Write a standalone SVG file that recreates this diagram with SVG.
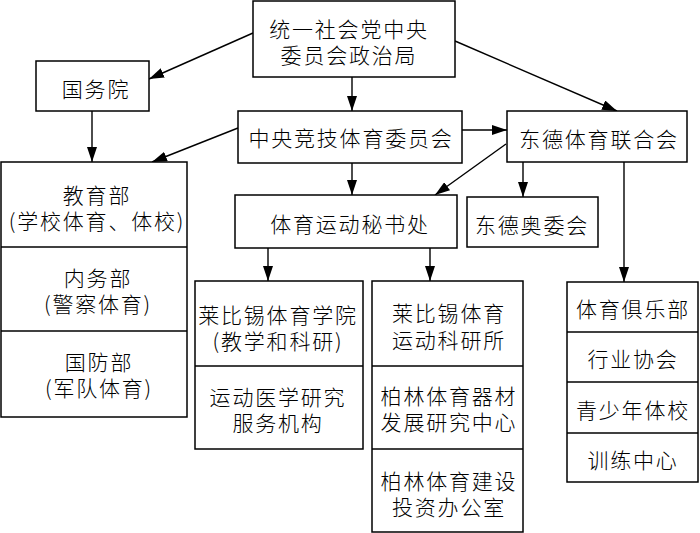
<svg xmlns="http://www.w3.org/2000/svg" width="700" height="533" viewBox="0 0 700 533">
<defs>
<marker id="ah" markerWidth="15" markerHeight="10" refX="15" refY="5" orient="auto" markerUnits="userSpaceOnUse"><path d="M0,0 L15,5 L0,10 z" fill="#000"/></marker>
<style>
rect{fill:#fff;stroke:#000;stroke-width:1.5}
.dv{stroke:#000;stroke-width:1.5}
.c line{stroke:#000;stroke-width:1.4;marker-end:url(#ah)}
text{font-family:"Noto Sans CJK SC","Liberation Sans",sans-serif;font-size:21px;font-weight:300;letter-spacing:1.8px;text-anchor:middle;dominant-baseline:central;fill:#000}
</style>
</defs>
<rect x="0" y="0" width="700" height="533" style="stroke:none;fill:#fff"/>
<g class="c" id="connectors">
<line x1="253" y1="33" x2="149" y2="79"/>
<line x1="352" y1="77" x2="352" y2="111"/>
<line x1="455" y1="41" x2="617" y2="111"/>
<line x1="92" y1="111" x2="92" y2="162"/>
<line x1="238" y1="128" x2="152" y2="162"/>
<line x1="462" y1="130" x2="507" y2="130"/>
<line x1="352" y1="163" x2="352" y2="195"/>
<line x1="506" y1="144" x2="435" y2="195"/>
<line x1="523" y1="162" x2="523" y2="197"/>
<line x1="624" y1="162" x2="624" y2="282"/>
<line x1="268" y1="248" x2="268" y2="281"/>
<line x1="430" y1="248" x2="430" y2="281"/>
</g>
<g id="politburo">
<rect x="253" y="1" width="202" height="76"/>
<text x="349" y="28">统一社会党中央<tspan x="349" dy="26">委员会政治局</tspan></text>
</g>
<g id="state-council">
<rect x="36" y="61" width="113" height="50"/>
<text x="96" y="88">国务院</text>
</g>
<g id="central-committee">
<rect x="238" y="111" width="224" height="52"/>
<text x="351" y="137">中央竞技体育委员会</text>
</g>
<g id="dtsb">
<rect x="507" y="111" width="180" height="51"/>
<text x="599" y="138">东德体育联合会</text>
</g>
<g id="secretariat">
<rect x="235" y="195" width="222" height="53"/>
<text x="350" y="223">体育运动秘书处</text>
</g>
<g id="noc">
<rect x="467" y="197" width="131" height="50"/>
<text x="532" y="224">东德奥委会</text>
</g>
<g id="ministries">
<rect x="1" y="162" width="186" height="255"/>
<line class="dv" x1="1" y1="247" x2="187" y2="247"/>
<line class="dv" x1="1" y1="331" x2="187" y2="331"/>
<text x="97" y="194">教育部<tspan x="97" dy="26">(学校体育、体校)</tspan></text>
<text x="98" y="277">内务部<tspan x="98" dy="26">(警察体育)</tspan></text>
<text x="99" y="361">国防部<tspan x="99" dy="26">(军队体育)</tspan></text>
</g>
<g id="leipzig-college">
<rect x="195" y="281" width="168" height="168"/>
<line class="dv" x1="195" y1="366" x2="363" y2="366"/>
<text x="278" y="314">莱比锡体育学院<tspan x="278" dy="26">(教学和科研)</tspan></text>
<text x="278" y="396">运动医学研究<tspan x="278" dy="26">服务机构</tspan></text>
</g>
<g id="institutes">
<rect x="372" y="281" width="151" height="251"/>
<line class="dv" x1="372" y1="366" x2="523" y2="366"/>
<line class="dv" x1="372" y1="449" x2="523" y2="449"/>
<text x="449" y="312">莱比锡体育<tspan x="449" dy="27">运动科研所</tspan></text>
<text x="449" y="395">柏林体育器材<tspan x="449" dy="26">发展研究中心</tspan></text>
<text x="449" y="480">柏林体育建设<tspan x="449" dy="26">投资办公室</tspan></text>
</g>
<g id="clubs">
<rect x="567" y="282" width="131" height="200"/>
<line class="dv" x1="567" y1="332" x2="698" y2="332"/>
<line class="dv" x1="567" y1="382" x2="698" y2="382"/>
<line class="dv" x1="567" y1="433" x2="698" y2="433"/>
<text x="633" y="308">体育俱乐部</text>
<text x="633" y="358">行业协会</text>
<text x="633" y="409">青少年体校</text>
<text x="633" y="459">训练中心</text>
</g>
</svg>
